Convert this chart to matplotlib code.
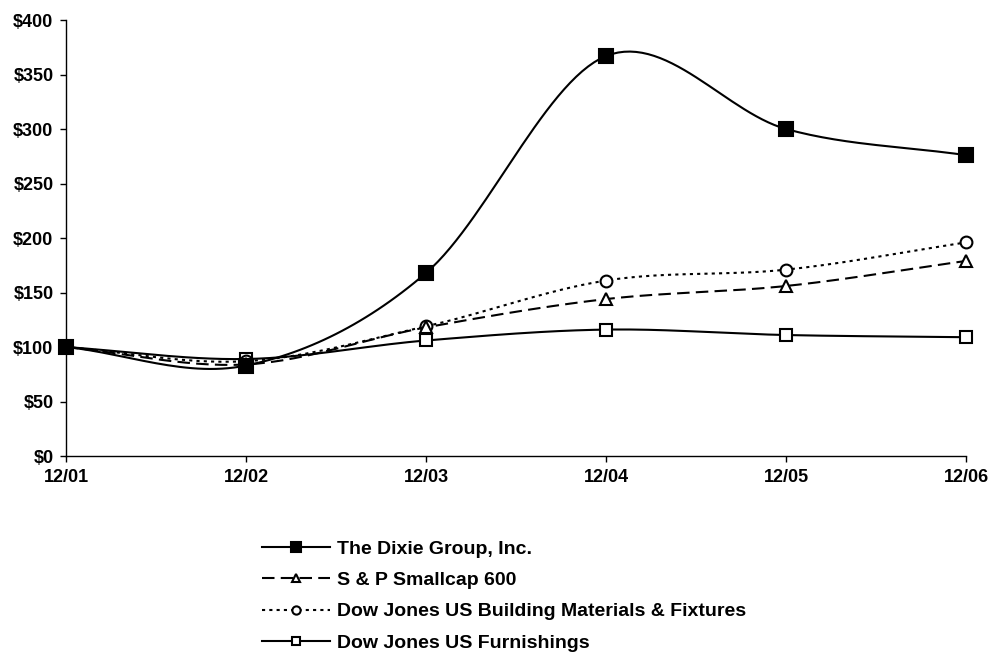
import numpy as np
import matplotlib.pyplot as plt

plt.rcParams['font.family'] = ['Liberation Sans', 'DejaVu Sans']
plt.rcParams['font.weight'] = 'bold'

# Data
years = ['12/01', '12/02', '12/03', '12/04', '12/05', '12/06']
dixie = [100, 83, 168, 367, 300, 276]
smallcap = [100, 84, 118, 144, 156, 179]
building = [100, 87, 119, 161, 171, 196]
furnishings = [100, 89, 106, 116, 111, 109]

N = 30  # samples per segment for the smoothed line


def smooth(y):
    # Catmull-Rom spline, similar to Excel's smoothed line
    y = np.asarray(y, dtype=float)
    p = np.concatenate([[2 * y[0] - y[1]], y, [2 * y[-1] - y[-2]]])
    xs, ys = [], []
    for i in range(len(y) - 1):
        p0, p1, p2, p3 = p[i], p[i + 1], p[i + 2], p[i + 3]
        t = np.linspace(0, 1, N, endpoint=False)
        seg = 0.5 * ((2 * p1) + (-p0 + p2) * t
                     + (2 * p0 - 5 * p1 + 4 * p2 - p3) * t ** 2
                     + (-p0 + 3 * p1 - 3 * p2 + p3) * t ** 3)
        xs.append(i + t)
        ys.append(seg)
    xs.append([len(y) - 1])
    ys.append([y[-1]])
    return np.concatenate(xs), np.concatenate(ys)


fig = plt.figure(figsize=(9.92, 6.72), dpi=100)
ax = fig.add_axes([0.0665, 0.3214, 0.9075, 0.6488])

series = [
    (dixie, 'The Dixie Group, Inc.', dict(linestyle='-', marker='s', markerfacecolor='black', markersize=9.5)),
    (smallcap, 'S & P Smallcap 600', dict(linestyle=(0, (6, 3)), marker='^', markerfacecolor='white', markersize=8.5)),
    (building, 'Dow Jones US Building Materials & Fixtures', dict(linestyle=(0, (1.5, 2)), marker='o', markerfacecolor='white', markersize=8.5)),
    (furnishings, 'Dow Jones US Furnishings', dict(linestyle='-', marker='s', markerfacecolor='white', markersize=8.5)),
]

# first series drawn on top, like the original
for k, (vals, name, style) in enumerate(series):
    sx, sy = smooth(vals)
    ax.plot(sx, sy, color='black', linewidth=1.5, markeredgecolor='black',
            markeredgewidth=1.5, markevery=slice(0, None, N), label=name,
            clip_on=False, zorder=10 - k, **style)

ax.set_xlim(0, len(years) - 1)
ax.set_ylim(0, 400)
ax.set_xticks(range(len(years)))
ax.set_xticklabels(years, fontsize=13, fontweight='bold')
ax.set_yticks(range(0, 401, 50))
ax.set_yticklabels([f'${v}' for v in range(0, 401, 50)], fontsize=13, fontweight='bold')
ax.tick_params(direction='out', length=4, width=1, pad=5)
ax.spines['top'].set_visible(False)
ax.spines['right'].set_visible(False)
for s in ['left', 'bottom']:
    ax.spines[s].set_linewidth(1)

fig.legend(loc='upper left', bbox_to_anchor=(0.256, 0.2075), frameon=False,
           prop={'weight': 'bold', 'size': 14}, handlelength=3.5,
           labelspacing=0.7, markerscale=0.7, handletextpad=0.35,
           borderaxespad=0)

fig.savefig('out.png', dpi=100)
